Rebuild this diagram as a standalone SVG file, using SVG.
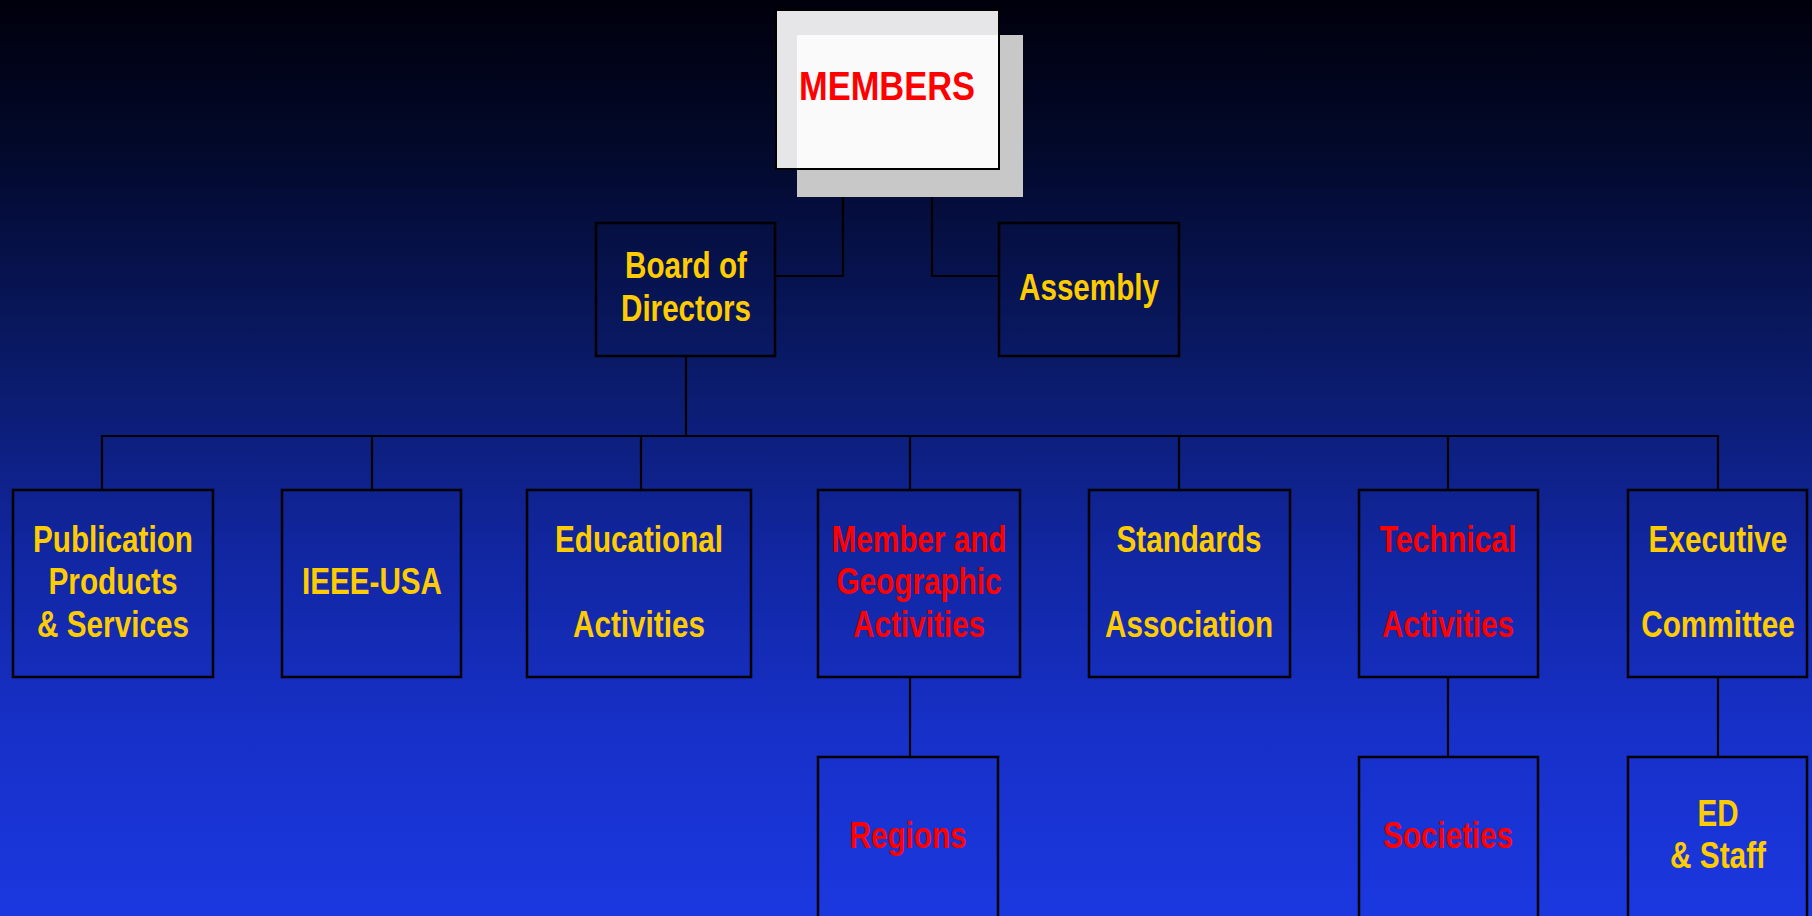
<svg xmlns="http://www.w3.org/2000/svg" width="1812" height="916" viewBox="0 0 1812 916">
<defs>
<linearGradient id="bg" x1="0" y1="0" x2="0" y2="1">
<stop offset="0" stop-color="#00000c"/>
<stop offset="0.15" stop-color="#020828"/>
<stop offset="0.4" stop-color="#0a1a68"/>
<stop offset="0.6" stop-color="#1126a0"/>
<stop offset="0.8" stop-color="#1730c8"/>
<stop offset="1" stop-color="#1b38e0"/>
</linearGradient>
<style>
.box{fill:none;stroke:#000;stroke-width:2.5}
.ln{fill:none;stroke:#000;stroke-width:2.2}
text{font-family:"Liberation Sans",Arial,sans-serif;font-weight:bold;font-size:36px;text-anchor:middle}
.y{fill:#ffcc00}
.r{fill:#ff0000}
</style>
</defs>
<rect x="0" y="0" width="1812" height="916" fill="url(#bg)"/>

<g id="connectors">
<path class="ln" d="M843 169 V276 H776"/>
<path class="ln" d="M932 169 V276 H999"/>
<path class="ln" d="M686 356 V436"/>
<path class="ln" d="M102 490 V436 H1718 V490"/>
<path class="ln" d="M372 436 V490 M641 436 V490 M910 436 V490 M1179 436 V490 M1448 436 V490"/>
<path class="ln" d="M910 677 V757 M1448 677 V757 M1718 677 V757"/>
</g>

<g id="members">
<rect x="797" y="35" width="226" height="162" fill="#c8c8c8"/>
<rect x="776" y="10" width="223" height="159" fill="#e6e6e8"/>
<rect x="797" y="35" width="202" height="134" fill="#fafafa"/>
<rect x="776" y="10" width="223" height="159" fill="none" stroke="#000" stroke-width="2"/>
<text x="887" y="100" class="r" style="font-size:40px" textLength="176" lengthAdjust="spacingAndGlyphs">MEMBERS</text>
</g>

<g id="board">
<rect class="box" x="596" y="223" width="179" height="133"/>
<text x="686" y="278" class="y" textLength="122" lengthAdjust="spacingAndGlyphs">Board of</text>
<text x="686" y="321" class="y" textLength="130" lengthAdjust="spacingAndGlyphs">Directors</text>
</g>

<g id="assembly">
<rect class="box" x="999" y="223" width="180" height="133"/>
<text x="1089" y="300" class="y" textLength="140" lengthAdjust="spacingAndGlyphs">Assembly</text>
</g>

<g id="publication">
<rect class="box" x="13" y="490" width="200" height="187"/>
<text x="113" y="552" class="y" textLength="160" lengthAdjust="spacingAndGlyphs">Publication</text>
<text x="113" y="594" class="y" textLength="129" lengthAdjust="spacingAndGlyphs">Products</text>
<text x="113" y="637" class="y" textLength="152" lengthAdjust="spacingAndGlyphs">&amp; Services</text>
</g>

<g id="ieeeusa">
<rect class="box" x="282" y="490" width="179" height="187"/>
<text x="372" y="594" class="y" textLength="140" lengthAdjust="spacingAndGlyphs">IEEE-USA</text>
</g>

<g id="educational">
<rect class="box" x="527" y="490" width="224" height="187"/>
<text x="639" y="552" class="y" textLength="168" lengthAdjust="spacingAndGlyphs">Educational</text>
<text x="639" y="637" class="y" textLength="132" lengthAdjust="spacingAndGlyphs">Activities</text>
</g>

<g id="member-geo">
<rect class="box" x="818" y="490" width="202" height="187"/>
<text x="919" y="552" class="r" textLength="175" lengthAdjust="spacingAndGlyphs">Member and</text>
<text x="919" y="594" class="r" textLength="165" lengthAdjust="spacingAndGlyphs">Geographic</text>
<text x="919" y="637" class="r" textLength="132" lengthAdjust="spacingAndGlyphs">Activities</text>
</g>

<g id="standards">
<rect class="box" x="1089" y="490" width="201" height="187"/>
<text x="1189" y="552" class="y" textLength="145" lengthAdjust="spacingAndGlyphs">Standards</text>
<text x="1189" y="637" class="y" textLength="168" lengthAdjust="spacingAndGlyphs">Association</text>
</g>

<g id="technical">
<rect class="box" x="1359" y="490" width="179" height="187"/>
<text x="1448" y="552" class="r" textLength="137" lengthAdjust="spacingAndGlyphs">Technical</text>
<text x="1448" y="637" class="r" textLength="132" lengthAdjust="spacingAndGlyphs">Activities</text>
</g>

<g id="executive">
<rect class="box" x="1628" y="490" width="179" height="187"/>
<text class="y" transform="translate(1718 552) scale(0.826 1)" x="0" y="0">Executive</text>
<text class="y" transform="translate(1718 637) scale(0.826 1)" x="0" y="0">Committee</text>
</g>

<g id="regions">
<rect class="box" x="818" y="757" width="180" height="180"/>
<text x="908" y="848" class="r" textLength="117" lengthAdjust="spacingAndGlyphs">Regions</text>
</g>

<g id="societies">
<rect class="box" x="1359" y="757" width="179" height="180"/>
<text x="1448" y="848" class="r" textLength="130" lengthAdjust="spacingAndGlyphs">Societies</text>
</g>

<g id="ed-staff">
<rect class="box" x="1628" y="757" width="179" height="180"/>
<text x="1718" y="826" class="y" textLength="41" lengthAdjust="spacingAndGlyphs">ED</text>
<text x="1718" y="868" class="y" textLength="96" lengthAdjust="spacingAndGlyphs">&amp; Staff</text>
</g>
</svg>
